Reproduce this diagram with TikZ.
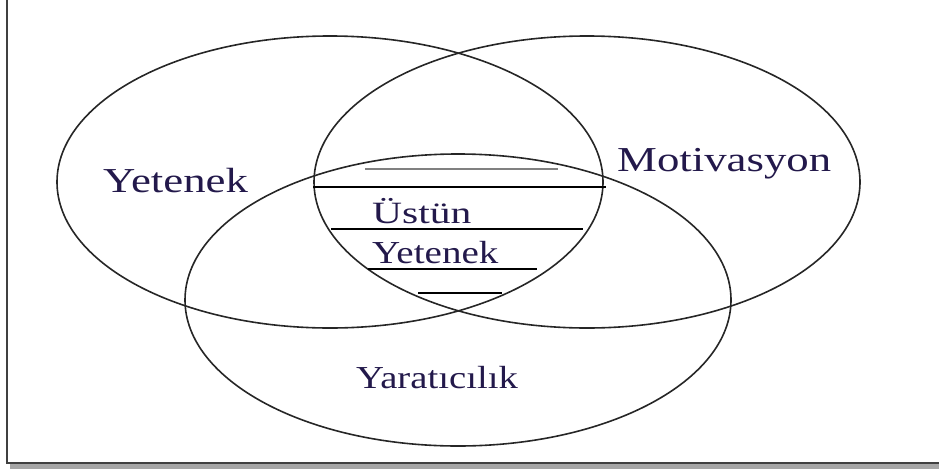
\documentclass[tikz,border=0pt]{standalone}
\usepackage{fontspec}
\setmainfont{Liberation Serif}
\definecolor{navytext}{RGB}{35,25,75}
\begin{document}
\begin{tikzpicture}[x=1pt,y=-1pt,
  venn/.style={draw=black!85, line width=1.6pt},
  hatch/.style={draw=black, line width=2pt},
  frameline/.style={draw=black!75, line width=2pt},
  lbl/.style={text=navytext, inner sep=0pt, anchor=base west}]
\useasboundingbox (0,0) rectangle (939,469);
% frame and shadow
\fill[black!35] (10,464) rectangle (939,469);
\draw[frameline] (7,-2) -- (7,463) -- (940,463);
% ellipses
\draw[venn] (330,182) ellipse [x radius=273, y radius=146];
\draw[venn] (587,182) ellipse [x radius=273, y radius=146];
\draw[venn] (458,300) ellipse [x radius=273, y radius=146];
% hatch lines
\coordinate (g1) at (365,169); \coordinate (g2) at (558,169);
\draw[draw=black!50, line width=2.2pt] (g1) -- (g2);
\coordinate (h1a) at (313,187); \coordinate (h1b) at (606,187);
\coordinate (h2a) at (331,229); \coordinate (h2b) at (583,229);
\coordinate (h3a) at (368,269); \coordinate (h3b) at (537,269);
\coordinate (h4a) at (418,293); \coordinate (h4b) at (502,293);
\draw[hatch] (h1a) -- (h1b);
\draw[hatch] (h2a) -- (h2b);
\draw[hatch] (h3a) -- (h3b);
\draw[hatch] (h4a) -- (h4b);
% labels
\node[lbl] (yet) at (103,192) {\fontsize{35}{38}\selectfont\scalebox{1.28}[1]{Yetenek}};
\node[lbl] (mot) at (617,171) {\fontsize{35}{38}\selectfont\scalebox{1.28}[1]{Motivasyon}};
\node[lbl] (ust) at (372,223) {\fontsize{31}{34}\selectfont\scalebox{1.34}[1]{Üstün}};
\node[lbl] (yet2) at (372,263) {\fontsize{32}{34}\selectfont\scalebox{1.22}[1]{Yetenek}};
\node[lbl] (yar) at (356,388) {\fontsize{32}{34}\selectfont\scalebox{1.21}[1]{Yaratıcılık}};
\end{tikzpicture}
\end{document}
